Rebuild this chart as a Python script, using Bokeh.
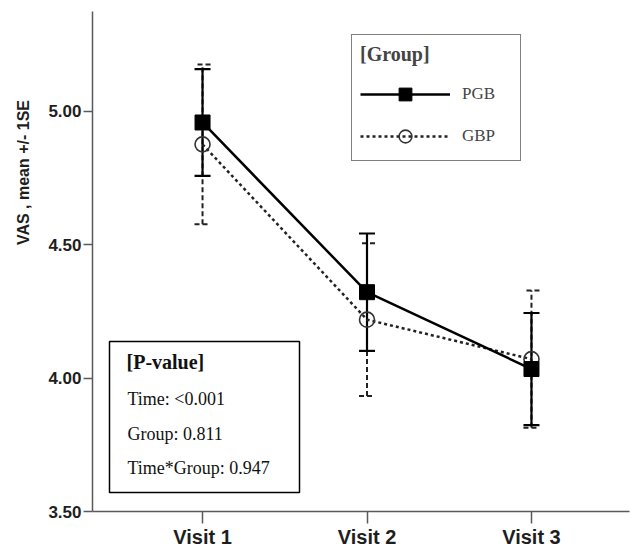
import math
from bokeh.plotting import figure
from bokeh.models import (ColumnDataSource, Whisker, TeeHead, Legend, LegendItem,
                          Label, BoxAnnotation, FixedTicker, Range1d, NumeralTickFormatter)
from bokeh.embed import file_html
from bokeh.resources import INLINE

# ---- data ----
visits = ["Visit 1", "Visit 2", "Visit 3"]
visit_pos = [1, 2, 3]
pgb_mean = [4.958, 4.322, 4.034]
pgb_se = [0.200, 0.220, 0.210]
gbp_mean = [4.876, 4.219, 4.071]
gbp_se = [0.299, 0.286, 0.257]
y_ticks = [3.5, 4.0, 4.5, 5.0]
pvalue_title = "[P-value]"
pvalue_lines = ["Time: <0.001", "Group: 0.811", "Time*Group: 0.947"]
legend_title = "[Group]"
group_names = ["PGB", "GBP"]
y_title = "VAS , mean +/- 1SE"

pgb = ColumnDataSource(dict(x=visit_pos, m=pgb_mean,
                            up=[m + s for m, s in zip(pgb_mean, pgb_se)],
                            lo=[m - s for m, s in zip(pgb_mean, pgb_se)]))
gbp = ColumnDataSource(dict(x=visit_pos, m=gbp_mean,
                            up=[m + s for m, s in zip(gbp_mean, gbp_se)],
                            lo=[m - s for m, s in zip(gbp_mean, gbp_se)]))

FW, FH = 537, 500
p = figure(frame_width=FW, frame_height=FH, output_backend="svg", toolbar_location=None,
           x_range=Range1d(0.331, 3.596), y_range=Range1d(3.5, 5.374),
           min_border_left=92, min_border_right=3, min_border_top=11, min_border_bottom=35)
p.outline_line_color = None
p.grid.grid_line_color = None
p.background_fill_color = "white"

AX = "#5a5a5a"
for ax in (p.xaxis[0], p.yaxis[0]):
    ax.axis_line_color = AX
    ax.axis_line_width = 1.5
    ax.major_tick_line_color = AX
    ax.major_tick_line_width = 1.5
    ax.major_tick_in = 0
    ax.minor_tick_line_color = None
    ax.major_label_text_font = "Liberation Sans"
    ax.major_label_text_font_style = "bold"
    ax.major_label_text_color = "#1e1e1e"

p.xaxis.ticker = FixedTicker(ticks=visit_pos)
p.xaxis.major_label_overrides = {v: t for v, t in zip(visit_pos, visits)}
p.xaxis.major_tick_out = 12
p.xaxis.major_label_standoff = 2
p.xaxis.major_label_text_font_size = "20px"

p.yaxis.ticker = FixedTicker(ticks=y_ticks)
p.yaxis.formatter = NumeralTickFormatter(format="0.00")
p.yaxis.major_tick_out = 9
p.yaxis.major_label_standoff = 2
p.yaxis.major_label_text_font_size = "17px"

# y axis title: a label in the left side panel (side-panel annotations are not clipped)
p.add_layout(Label(x=-5, y=339, x_units="screen", y_units="screen",
                   text=y_title, angle=math.pi / 2,
                   text_font="Liberation Sans", text_font_style="bold",
                   text_font_size="16px", text_align="center", text_baseline="middle",
                   text_color="#1e1e1e"), "left")

# ---- GBP (dotted) drawn first ----
p.add_layout(Whisker(source=gbp, base="x", upper="up", lower="lo", dimension="height",
                     line_color="#222222", line_width=2, line_dash="5 3",
                     upper_head=TeeHead(size=16, line_width=2, line_dash="5 3", line_color="#222222"),
                     lower_head=TeeHead(size=16, line_width=2, line_dash="5 3", line_color="#222222")))
gl = p.line("x", "m", source=gbp, line_color="#222222", line_width=2.5, line_dash="3 3")
gs = p.scatter("x", "m", source=gbp, marker="circle", size=15, fill_alpha=0,
               line_color="#333333", line_width=1.6)

# ---- PGB (solid) ----
p.add_layout(Whisker(source=pgb, base="x", upper="up", lower="lo", dimension="height",
                     line_color="black", line_width=2.2,
                     upper_head=TeeHead(size=16, line_width=2.2, line_color="black"),
                     lower_head=TeeHead(size=16, line_width=2.2, line_color="black")))
pl = p.line("x", "m", source=pgb, line_color="black", line_width=2.5)
ps = p.scatter("x", "m", source=pgb, marker="square", size=15, fill_color="black",
               line_color="black")

# ---- legend ----
legend = Legend(items=[LegendItem(label=group_names[0], renderers=[pl, ps]),
                       LegendItem(label=group_names[1], renderers=[gl, gs])],
                title=legend_title, location=(259, 350))
legend.title_text_font = "Liberation Serif"
legend.title_text_font_style = "bold"
legend.title_text_font_size = "20px"
legend.title_standoff = 12
legend.label_text_font = "Liberation Serif"
legend.label_text_font_size = "17px"
legend.label_standoff = 12
legend.glyph_width = 90
legend.glyph_height = 32
legend.label_height = 32
legend.label_width = 50
legend.spacing = 10
legend.padding = 8
legend.border_line_color = "black"
legend.border_line_width = 1.5
legend.background_fill_color = "white"
legend.background_fill_alpha = 1
p.add_layout(legend, "center")

# ---- P-value box ----
p.add_layout(BoxAnnotation(left=17, right=207, bottom=19, top=170,
                           left_units="screen", right_units="screen",
                           top_units="screen", bottom_units="screen",
                           fill_color="white", fill_alpha=1,
                           line_color="black", line_width=1.5, line_alpha=1))
p.add_layout(Label(x=34, y=150, x_units="screen", y_units="screen", text=pvalue_title,
                   text_font="Liberation Serif", text_font_style="bold",
                   text_font_size="20px", text_baseline="middle", text_color="#111111"))
for t, yy in zip(pvalue_lines, [113, 78, 44]):
    p.add_layout(Label(x=35, y=yy, x_units="screen", y_units="screen", text=t,
                       text_font="Liberation Serif", text_font_size="18px",
                       text_baseline="middle", text_color="#111111"))

open("out.html", "w").write(file_html(p, INLINE))
